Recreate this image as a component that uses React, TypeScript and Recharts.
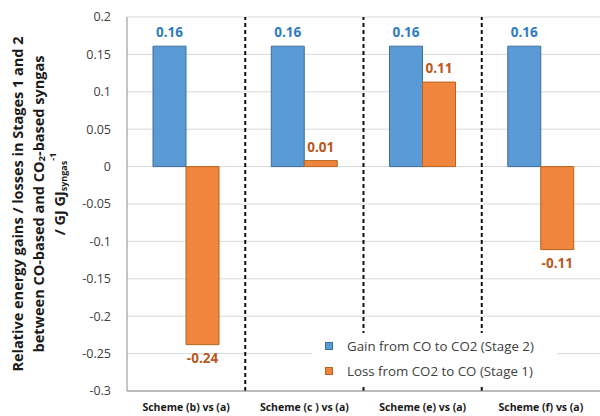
import React from 'react';
import {
  BarChart,
  Bar,
  XAxis,
  YAxis,
  CartesianGrid,
  ReferenceLine,
  LabelList,
  Label,
} from 'recharts';

const schemes = ['Scheme (b) vs (a)', 'Scheme (c ) vs (a)', 'Scheme (e) vs (a)', 'Scheme (f) vs (a)'];
const gainStage2 = [0.161, 0.161, 0.161, 0.161];
const lossStage1 = [-0.238, 0.008, 0.113, -0.111];
const yTicks = [-0.3, -0.25, -0.2, -0.15, -0.1, -0.05, 0, 0.05, 0.1, 0.15, 0.2];
// dashed separators sit at the start of these categories
const separatedSchemes = schemes.slice(1);

const BLUE = '#5B9BD5';
const ORANGE = '#F0853D';
const FONT = '"Open Sans", "Liberation Sans", sans-serif';

const data = schemes.map((name, i) => ({
  name,
  gain: gainStage2[i],
  loss: lossStage1[i],
}));

const legendItems = [
  { label: 'Gain from CO to CO2 (Stage 2)', color: BLUE, border: '#3F6E9A' },
  { label: 'Loss from CO2 to CO (Stage 1)', color: ORANGE, border: '#B5651D' },
];

const fmtTick = (v: number) => {
  if (v === 0) return '0';
  return String(Math.round(v * 100) / 100);
};

const ValueLabel = (props: any) => {
  const { x, y, width, height, value, color } = props;
  const top = Math.min(y, y + height);
  const bottom = Math.max(y, y + height);
  const cx = x + width / 2;
  const ty = value >= 0 ? top - 9 : bottom + 18;
  return (
    <text x={cx} y={ty} textAnchor="middle" fill={color} fontSize={13.5} fontWeight={700} fontFamily={FONT}>
      {Number(value).toFixed(2)}
    </text>
  );
};

const YTitle = (props: any) => {
  const { viewBox } = props;
  const cy = viewBox.y + viewBox.height / 2;
  const cy3 = cy - 10;
  const style = { fontFamily: FONT, fontSize: 14.5, fontWeight: 700, fill: '#1a1a1a' };
  return (
    <g>
      <text x={17} y={cy} transform={`rotate(-90, 17, ${cy})`} textAnchor="middle" dominantBaseline="central" style={style}>
        Relative energy gains / losses  in Stages 1 and 2
      </text>
      <text x={38} y={cy} transform={`rotate(-90, 38, ${cy})`} textAnchor="middle" dominantBaseline="central" style={style}>
        between CO-based and CO<tspan fontSize={9.5} baselineShift={-3}>2</tspan>-based syngas
      </text>
      <text x={59} y={cy3} transform={`rotate(-90, 59, ${cy3})`} textAnchor="middle" dominantBaseline="central" style={style}>
        / GJ GJ<tspan fontSize={9} baselineShift={-4}>syngas</tspan>
        <tspan fontSize={9} baselineShift={7}>-1</tspan>
      </text>
    </g>
  );
};

const LegendBox = () => (
  <div
    style={{
      position: 'absolute',
      left: 312,
      top: 333,
      background: '#fff',
      width: 245,
      height: 52,
      fontFamily: FONT,
      fontSize: 13.3,
      color: '#404040',
      boxSizing: 'border-box',
    }}
  >
    {legendItems.map((item) => (
      <div key={item.label} style={{ display: 'flex', alignItems: 'center', height: 25 }}>
        <span
          style={{
            display: 'inline-block',
            width: 6,
            height: 6,
            background: item.color,
            border: `1px solid ${item.border}`,
            marginLeft: 13,
            marginRight: 14,
          }}
        />
        <span>{item.label}</span>
      </div>
    ))}
  </div>
);

export default function App() {
  return (
    <div style={{ position: 'absolute', left: 0, top: 0, width: 600, height: 416, background: '#fff' }}>
      <BarChart
        width={600}
        height={416}
        data={data}
        margin={{ top: 17, right: 0, left: 0, bottom: 0 }}
        barGap={0}
      >
        <CartesianGrid vertical={false} stroke="#d9d9d9" />
        <XAxis
          xAxisId="cat"
          dataKey="name"
          height={25}
          axisLine={{ stroke: '#8c8c8c' }}
          tickLine={false}
          tick={{ fontFamily: FONT, fontSize: 10.5, fontWeight: 700, fill: '#1a1a1a' }}
          tickMargin={7}
          interval={0}
        />
        <YAxis
          width={127}
          domain={[-0.3, 0.2]}
          ticks={yTicks}
          tickFormatter={fmtTick}
          axisLine={{ stroke: '#8c8c8c' }}
          tickLine={false}
          tickSize={0}
          tickMargin={16}
          tick={{ fontFamily: FONT, fontSize: 12.5, fill: '#404040' }}
          allowDataOverflow
        >
          <Label content={<YTitle />} />
        </YAxis>
        {separatedSchemes.map((s) => (
          <ReferenceLine
            key={s}
            xAxisId="cat"
            x={s}
            position="start"
            stroke="#111"
            strokeWidth={2}
            strokeDasharray="4 3"
          />
        ))}
        <Bar xAxisId="cat" dataKey="gain" fill={BLUE} stroke="#3F6E9A" barSize={33} isAnimationActive={false}>
          <LabelList dataKey="gain" content={<ValueLabel color="#2E7BC4" />} />
        </Bar>
        <Bar xAxisId="cat" dataKey="loss" fill={ORANGE} stroke="#B5651D" barSize={33} isAnimationActive={false}>
          <LabelList dataKey="loss" content={<ValueLabel color="#B8581C" />} />
        </Bar>
      </BarChart>
      <LegendBox />
    </div>
  );
}
